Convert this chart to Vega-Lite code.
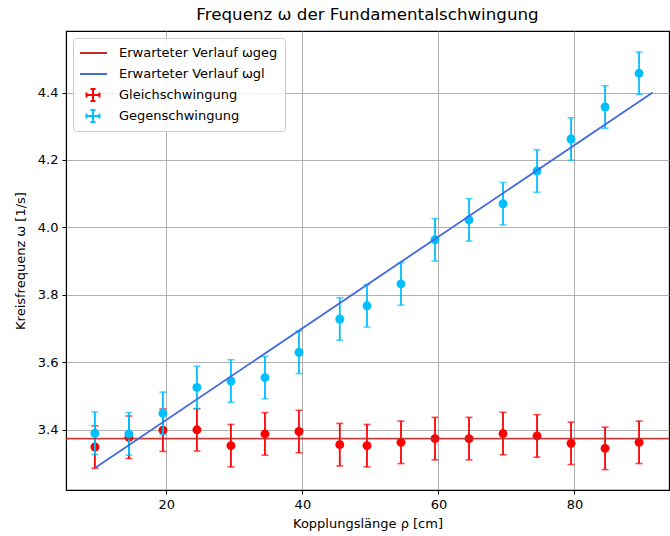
{
  "$schema": "https://vega.github.io/schema/vega-lite/v6.json",
  "width": 603,
  "height": 459,
  "autosize": {"type": "none"},
  "padding": {"left": 66, "top": 31, "right": 1, "bottom": 46},
  "background": "white",
  "title": {"text": "Frequenz ω der Fundamentalschwingung", "font": "DejaVu Sans", "fontSize": 16.7, "fontWeight": "normal", "color": "black", "offset": 7},
  "config": {
    "font": "DejaVu Sans",
    "view": {"stroke": "black", "strokeWidth": 1.1},
    "axis": {
      "gridColor": "#b0b0b0", "gridWidth": 1, "domainColor": "black", "domainWidth": 1.1,
      "tickColor": "black", "tickSize": 4, "labelColor": "black", "labelFontSize": 13,
      "titleFontSize": 13, "titleFontWeight": "normal", "titleColor": "black", "labelPadding": 4,
      "labelFont": "DejaVu Sans", "titleFont": "DejaVu Sans"
    }
  },
  "datasets": {
    "points": [
      {"rho": 9.5, "omega": 3.348, "err": 0.063, "series": "Gleichschwingung"},
      {"rho": 14.5, "omega": 3.377, "err": 0.063, "series": "Gleichschwingung"},
      {"rho": 19.5, "omega": 3.398, "err": 0.063, "series": "Gleichschwingung"},
      {"rho": 24.5, "omega": 3.399, "err": 0.063, "series": "Gleichschwingung"},
      {"rho": 29.5, "omega": 3.352, "err": 0.063, "series": "Gleichschwingung"},
      {"rho": 34.5, "omega": 3.387, "err": 0.063, "series": "Gleichschwingung"},
      {"rho": 39.5, "omega": 3.394, "err": 0.063, "series": "Gleichschwingung"},
      {"rho": 45.5, "omega": 3.355, "err": 0.063, "series": "Gleichschwingung"},
      {"rho": 49.5, "omega": 3.352, "err": 0.063, "series": "Gleichschwingung"},
      {"rho": 54.5, "omega": 3.362, "err": 0.063, "series": "Gleichschwingung"},
      {"rho": 59.5, "omega": 3.373, "err": 0.063, "series": "Gleichschwingung"},
      {"rho": 64.5, "omega": 3.373, "err": 0.063, "series": "Gleichschwingung"},
      {"rho": 69.5, "omega": 3.388, "err": 0.063, "series": "Gleichschwingung"},
      {"rho": 74.5, "omega": 3.381, "err": 0.063, "series": "Gleichschwingung"},
      {"rho": 79.5, "omega": 3.359, "err": 0.063, "series": "Gleichschwingung"},
      {"rho": 84.5, "omega": 3.344, "err": 0.063, "series": "Gleichschwingung"},
      {"rho": 89.5, "omega": 3.362, "err": 0.063, "series": "Gleichschwingung"},
      {"rho": 9.5, "omega": 3.389, "err": 0.063, "series": "Gegenschwingung"},
      {"rho": 14.5, "omega": 3.387, "err": 0.063, "series": "Gegenschwingung"},
      {"rho": 19.5, "omega": 3.448, "err": 0.063, "series": "Gegenschwingung"},
      {"rho": 24.5, "omega": 3.525, "err": 0.063, "series": "Gegenschwingung"},
      {"rho": 29.5, "omega": 3.544, "err": 0.063, "series": "Gegenschwingung"},
      {"rho": 34.5, "omega": 3.554, "err": 0.063, "series": "Gegenschwingung"},
      {"rho": 39.5, "omega": 3.629, "err": 0.063, "series": "Gegenschwingung"},
      {"rho": 45.5, "omega": 3.728, "err": 0.063, "series": "Gegenschwingung"},
      {"rho": 49.5, "omega": 3.767, "err": 0.063, "series": "Gegenschwingung"},
      {"rho": 54.5, "omega": 3.832, "err": 0.063, "series": "Gegenschwingung"},
      {"rho": 59.5, "omega": 3.963, "err": 0.063, "series": "Gegenschwingung"},
      {"rho": 64.5, "omega": 4.022, "err": 0.063, "series": "Gegenschwingung"},
      {"rho": 69.5, "omega": 4.07, "err": 0.063, "series": "Gegenschwingung"},
      {"rho": 74.5, "omega": 4.167, "err": 0.063, "series": "Gegenschwingung"},
      {"rho": 79.5, "omega": 4.262, "err": 0.063, "series": "Gegenschwingung"},
      {"rho": 84.5, "omega": 4.357, "err": 0.063, "series": "Gegenschwingung"},
      {"rho": 89.5, "omega": 4.457, "err": 0.063, "series": "Gegenschwingung"}
    ],
    "geg": [
      {"omega": 3.373, "series": "Erwarteter Verlauf ωgeg"}
    ],
    "gl": [
      {"rho": 9.5, "omega": 3.286, "series": "Erwarteter Verlauf ωgl"},
      {"rho": 91.5, "omega": 4.4, "series": "Erwarteter Verlauf ωgl"}
    ]
  },
  "encoding": {
    "color": {
      "field": "series", "type": "nominal",
      "scale": {
        "domain": ["Erwarteter Verlauf ωgeg", "Erwarteter Verlauf ωgl", "Gleichschwingung", "Gegenschwingung"],
        "range": ["#c02a2a", "#4169e1", "#ff0000", "#00bfff"]
      },
      "legend": {
        "title": null, "orient": "top-left", "offset": 7,
        "fillColor": "rgba(255,255,255,0.85)", "strokeColor": "#cccccc", "cornerRadius": 3,
        "padding": 7, "labelFontSize": 13, "labelFont": "DejaVu Sans", "labelColor": "black",
        "symbolSize": 196, "symbolOffset": 5, "labelOffset": 18, "rowPadding": 5, "clipHeight": 16,
        "symbolStrokeWidth": 2,
        "encode": {
          "symbols": {
            "update": {
              "shape": {"signal": "datum.index < 2 ? 'M-2,0H2' : 'M-0.93,0H0.93M0,-0.86V0.86M-0.36,-0.86H0.36M-0.36,0.86H0.36M-0.93,-0.36V0.36M0.93,-0.36V0.36'"},
              "stroke": {"scale": "color", "field": "value"},
              "fill": {"value": "transparent"},
              "strokeWidth": {"value": 2},
              "opacity": {"value": 1}
            }
          }
        }
      }
    }
  },
  "layer": [
    {
      "data": {"name": "points"},
      "transform": [{"filter": "datum.series == 'Gleichschwingung'"}],
      "mark": {"type": "errorbar", "ticks": {"size": 7, "thickness": 1.6}, "rule": {"strokeWidth": 1.8}},
      "encoding": {
        "x": {"field": "rho", "type": "quantitative", "title": "Kopplungslänge ρ [cm]", "scale": {"domain": [5.25, 93.9], "nice": false, "zero": false},
              "axis": {"values": [20, 40, 60, 80], "titlePadding": 6}},
        "y": {"field": "omega", "type": "quantitative", "title": "Kreisfrequenz ω [1/s]", "scale": {"domain": [3.2205, 4.5825], "nice": false, "zero": false},
              "axis": {"values": [3.4, 3.6, 3.8, 4.0, 4.2, 4.4], "format": ".1f", "titlePadding": 10}},
        "yError": {"field": "err"}
      }
    },
    {
      "data": {"name": "points"},
      "transform": [{"filter": "datum.series == 'Gleichschwingung'"}],
      "mark": {"type": "point", "filled": true, "opacity": 1, "size": 80},
      "encoding": {
        "x": {"field": "rho", "type": "quantitative", "title": "Kopplungslänge ρ [cm]"},
        "y": {"field": "omega", "type": "quantitative", "title": "Kreisfrequenz ω [1/s]"}
      }
    },
    {
      "data": {"name": "points"},
      "transform": [{"filter": "datum.series == 'Gegenschwingung'"}],
      "mark": {"type": "errorbar", "ticks": {"size": 7, "thickness": 1.6}, "rule": {"strokeWidth": 1.8}},
      "encoding": {
        "x": {"field": "rho", "type": "quantitative", "title": "Kopplungslänge ρ [cm]"},
        "y": {"field": "omega", "type": "quantitative", "title": "Kreisfrequenz ω [1/s]"},
        "yError": {"field": "err"}
      }
    },
    {
      "data": {"name": "points"},
      "transform": [{"filter": "datum.series == 'Gegenschwingung'"}],
      "mark": {"type": "point", "filled": true, "opacity": 1, "size": 80},
      "encoding": {
        "x": {"field": "rho", "type": "quantitative", "title": "Kopplungslänge ρ [cm]"},
        "y": {"field": "omega", "type": "quantitative", "title": "Kreisfrequenz ω [1/s]"}
      }
    },
    {
      "data": {"name": "geg"},
      "mark": {"type": "rule", "strokeWidth": 1.8, "opacity": 0.9},
      "encoding": {
        "y": {"field": "omega", "type": "quantitative", "title": "Kreisfrequenz ω [1/s]"}
      }
    },
    {
      "data": {"name": "gl"},
      "mark": {"type": "line", "strokeWidth": 1.8},
      "encoding": {
        "x": {"field": "rho", "type": "quantitative", "title": "Kopplungslänge ρ [cm]"},
        "y": {"field": "omega", "type": "quantitative", "title": "Kreisfrequenz ω [1/s]"}
      }
    }
  ]
}
